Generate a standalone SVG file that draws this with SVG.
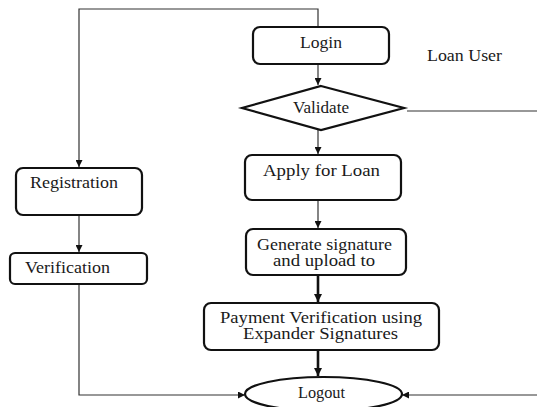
<svg xmlns="http://www.w3.org/2000/svg" width="537" height="407" viewBox="0 0 537 407">
<style>
.box{fill:#fff;stroke:#111;stroke-width:2.2}
.t{font-family:"Liberation Serif","Times New Roman",serif;font-size:16px;fill:#1a1a1a}
.c{fill:none;stroke:#333;stroke-width:1.2}
.ck{fill:none;stroke:#111;stroke-width:2.6}
</style>
<defs>
<marker id="a" viewBox="0 0 10 10" refX="10" refY="5" markerWidth="7" markerHeight="7" markerUnits="userSpaceOnUse" orient="auto"><path d="M0,0 L10,5 L0,10 z" fill="#111"/></marker>
<marker id="ak" viewBox="0 0 10 10" refX="10" refY="5" markerWidth="8" markerHeight="8" markerUnits="userSpaceOnUse" orient="auto"><path d="M0,0 L10,5 L0,10 z" fill="#111"/></marker>
</defs>
<g id="connectors">
<path class="c" d="M318,27 V9 H79 V167" marker-end="url(#a)"/>
<path class="c" d="M318,64 V85" marker-end="url(#a)"/>
<path class="c" d="M407,111 H537"/>
<path class="c" d="M318,130 V154" marker-end="url(#a)"/>
<path class="c" d="M318,200 V228" marker-end="url(#a)"/>
<path class="c" d="M79,215 V252" marker-end="url(#a)"/>
<path class="ck" d="M318,275 V302" marker-end="url(#ak)"/>
<path class="ck" d="M318,350 V376" marker-end="url(#ak)"/>
<path class="c" d="M79,284 V395 H245" marker-end="url(#a)"/>
<path class="c" d="M537,395 H402" marker-end="url(#a)"/>
</g>
<g id="login"><rect class="box" x="253" y="27" width="136" height="37" rx="7"/><text class="t" x="300" y="48" textLength="42" lengthAdjust="spacingAndGlyphs">Login</text></g>
<g id="loanuser"><text class="t" x="427" y="61" textLength="75" lengthAdjust="spacingAndGlyphs">Loan User</text></g>
<g id="validate"><polygon class="box" points="321,86 404,108 321,130 242,108"/><text class="t" x="293" y="113" font-size="15" textLength="56" lengthAdjust="spacingAndGlyphs">Validate</text></g>
<g id="apply"><rect class="box" x="245" y="155" width="156" height="45" rx="7"/><text class="t" x="263" y="176" textLength="117" lengthAdjust="spacingAndGlyphs">Apply for Loan</text></g>
<g id="generate"><rect class="box" x="246" y="229" width="160" height="46" rx="7"/><text class="t" x="257" y="250" textLength="135" lengthAdjust="spacingAndGlyphs">Generate signature</text><text class="t" x="273" y="266" textLength="102" lengthAdjust="spacingAndGlyphs">and upload to</text></g>
<g id="payment"><rect class="box" x="204" y="303" width="235" height="47" rx="7"/><text class="t" x="220" y="323" textLength="202" lengthAdjust="spacingAndGlyphs">Payment Verification using</text><text class="t" x="243" y="339" textLength="155" lengthAdjust="spacingAndGlyphs">Expander Signatures</text></g>
<g id="registration"><rect class="box" x="16" y="168" width="126" height="47" rx="7"/><text class="t" x="30" y="188" textLength="88" lengthAdjust="spacingAndGlyphs">Registration</text></g>
<g id="verification"><rect class="box" x="10" y="253" width="137" height="31" rx="5"/><text class="t" x="25" y="273" textLength="85" lengthAdjust="spacingAndGlyphs">Verification</text></g>
<g id="logout"><ellipse class="box" cx="323.5" cy="394" rx="78.5" ry="17"/><text class="t" x="298" y="398" textLength="47" lengthAdjust="spacingAndGlyphs">Logout</text></g>
</svg>
